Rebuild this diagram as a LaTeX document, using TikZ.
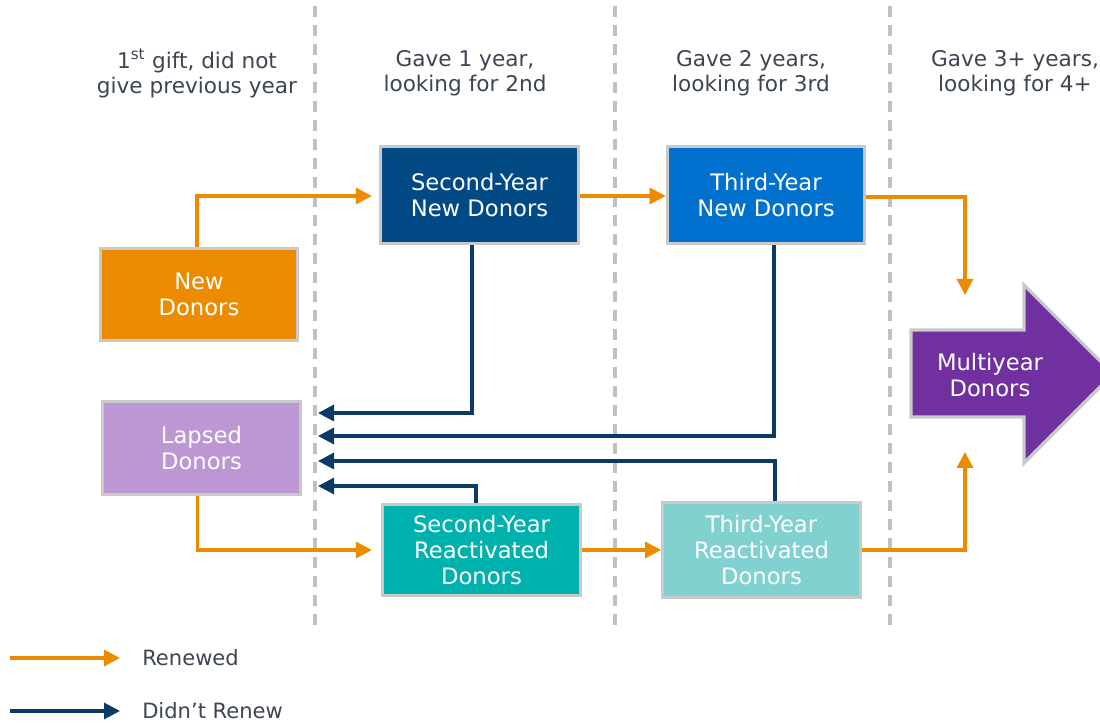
\documentclass[tikz,border=0pt]{standalone}
\usepackage{fontspec}
\setmainfont{DejaVu Sans}
\usetikzlibrary{arrows.meta,calc}
\definecolor{orangeA}{HTML}{EC8B00}
\definecolor{navyA}{HTML}{0B3A66}
\definecolor{syblue}{HTML}{024A86}
\definecolor{tyblue}{HTML}{0071CE}
\definecolor{lapsedc}{HTML}{BC97D4}
\definecolor{syreact}{HTML}{00B2AE}
\definecolor{tyreact}{HTML}{80D1D0}
\definecolor{multic}{HTML}{7030A0}
\definecolor{bordergray}{HTML}{C9C9C9}
\definecolor{dashgray}{HTML}{BFC1C4}
\definecolor{hdrgray}{HTML}{3E4552}
\begin{document}
\begin{tikzpicture}[x=0.75pt,y=-0.75pt,
  box/.style={draw=bordergray, line width=2.4pt, rectangle, align=center, text=white,
    font=\fontsize{17}{19.5}\selectfont, inner sep=0pt},
  hdr/.style={align=center, text=hdrgray, font=\fontsize{16.2}{19}\selectfont, inner sep=0pt},
  legtext/.style={anchor=west, text=hdrgray, font=\fontsize{15.8}{18}\selectfont, inner sep=0pt},
  renew/.style={draw=orangeA, line width=2.4pt, -{Triangle[length=12pt,width=12pt]}},
  lapse/.style={draw=navyA, line width=2.4pt, -{Triangle[length=12pt,width=12pt]}},
  divider/.style={draw=dashgray, line width=2.4pt, dash pattern=on 8.25pt off 6pt}
]
\clip (0,0) rectangle (1100,723);
\fill[white] (0,0) rectangle (1100,723);

% dashed dividers
\draw[divider] (315,6) -- (315,628);
\draw[divider] (615,6) -- (615,628);
\draw[divider] (890,6) -- (890,628);

% headers
\node[hdr] (h1) at (197,73.5) {1\textsuperscript{st} gift, did not\\give previous year};
\node[hdr] (h2) at (465,73.5) {Gave 1 year,\\looking for 2nd};
\node[hdr] (h3) at (751,73.5) {Gave 2 years,\\looking for 3rd};
\node[hdr] (h4) at (1015,73.5) {Gave 3+ years,\\looking for 4+};

% boxes
\node[box, fill=orangeA, minimum width=148pt, minimum height=69pt] (new) at (199,294.5) {New\\Donors};
\node[box, fill=syblue, minimum width=148pt, minimum height=73pt] (sy) at (479.5,195) {Second-Year\\New Donors};
\node[box, fill=tyblue, minimum width=148pt, minimum height=73pt] (ty) at (766,195) {Third-Year\\New Donors};
\node[box, fill=lapsedc, minimum width=148pt, minimum height=70pt] (lapsed) at (201.5,448) {Lapsed\\Donors};
\node[box, fill=syreact, minimum width=148pt, minimum height=68.5pt] (syr) at (481.5,550) {Second-Year\\Reactivated\\Donors};
\node[box, fill=tyreact, minimum width=148pt, minimum height=71.5pt] (tyr) at (761.5,550) {Third-Year\\Reactivated\\Donors};

% multiyear arrow shape
\fill[multic, draw=bordergray, line width=2.4pt]
  (911,330) -- (1024,330) -- (1024,285) -- (1113,374) -- (1024,463) -- (1024,417) -- (911,417) -- cycle;
\node[box, draw=none, fill=none] (multi) at (990,375) {Multiyear\\Donors};

% free ends
\coordinate (mtop) at (965,295);
\coordinate (mbot) at (965,452);
\coordinate (l1) at (318,413);
\coordinate (l2) at (318,436);
\coordinate (l3) at (318,461);
\coordinate (l4) at (318,486);

% renewed (orange)
\draw[renew, shorten >=5.5pt] ($(new.north)+(-2,0)$) |- ($(sy.west)+(0,1)$);
\draw[renew] ($(sy.east)+(0,1)$) -- ($(ty.west)+(0,1)$);
\draw[renew] ($(ty.east)+(0,2)$) -| (mtop);
\draw[renew, shorten >=7pt] ($(lapsed.south)+(-4,0)$) |- (syr.west);
\draw[renew] (syr.east) -- (tyr.west);
\draw[renew] (tyr.east) -| (mbot);

% didn't renew (navy)
\draw[lapse] ($(sy.south)+(-7.5,0)$) |- (l1);
\draw[lapse] ($(ty.south)+(8,0)$) |- (l2);
\draw[lapse] ($(tyr.north)+(13.5,0)$) |- (l3);
\draw[lapse] ($(syr.north)+(-5.5,0)$) |- (l4);

% legend
\coordinate (ra) at (10,658);
\coordinate (rb) at (120,658);
\coordinate (da) at (10,711);
\coordinate (db) at (120,711);
\draw[renew] (ra) -- (rb);
\draw[lapse] (da) -- (db);
\node[legtext] (lr) at (142,658) {Renewed};
\node[legtext] (ld) at (142,711) {Didn’t Renew};
\end{tikzpicture}
\end{document}
